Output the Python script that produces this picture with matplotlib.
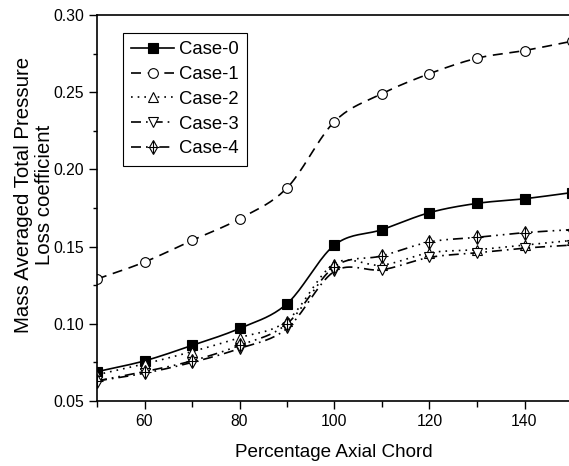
import numpy as np
import matplotlib
matplotlib.use("Agg")
import matplotlib.pyplot as plt
from matplotlib.legend_handler import HandlerTuple

plt.rcParams['font.family'] = ['Liberation Sans', 'DejaVu Sans']

chord = [50, 60, 70, 80, 90, 100, 110, 120, 130, 140, 150]
case0 = [0.069, 0.076, 0.086, 0.097, 0.113, 0.151, 0.161, 0.172, 0.178, 0.181, 0.185]
case1 = [0.129, 0.140, 0.154, 0.168, 0.188, 0.231, 0.249, 0.262, 0.272, 0.277, 0.283]
case2 = [0.067, 0.074, 0.082, 0.091, 0.102, 0.139, 0.138, 0.146, 0.148, 0.151, 0.154]
case3 = [0.063, 0.068, 0.075, 0.084, 0.097, 0.134, 0.135, 0.143, 0.146, 0.149, 0.151]
case4 = [0.063, 0.069, 0.076, 0.086, 0.100, 0.137, 0.144, 0.153, 0.156, 0.159, 0.161]
labels = ['Case-0', 'Case-1', 'Case-2', 'Case-3', 'Case-4']


def smooth(x, y, n=20):
    # catmull-rom through the points, just for drawing the line
    x = np.asarray(x, float)
    y = np.asarray(y, float)
    xs, ys = [], []
    for i in range(len(x) - 1):
        p0 = y[i - 1] if i > 0 else 2 * y[0] - y[1]
        p3 = y[i + 2] if i + 2 < len(y) else 2 * y[-1] - y[-2]
        p1, p2 = y[i], y[i + 1]
        t = np.linspace(0, 1, n, endpoint=False)
        seg = 0.5 * (2 * p1 + (-p0 + p2) * t + (2 * p0 - 5 * p1 + 4 * p2 - p3) * t**2
                     + (-p0 + 3 * p1 - 3 * p2 + p3) * t**3)
        xs.append(x[i] + (x[i + 1] - x[i]) * t)
        ys.append(seg)
    xs.append([x[-1]])
    ys.append([y[-1]])
    return np.concatenate(xs), np.concatenate(ys)


fig = plt.figure(figsize=(5.69, 4.66), dpi=100)
ax = fig.add_axes([97 / 569, 65 / 466, 475 / 569, 386 / 466])

styles = [
    dict(marker='s', mfc='black', dashes=None),
    dict(marker='o', mfc='white', dashes=(6, 4)),
    dict(marker='^', mfc='white', dashes=(1, 3)),
    dict(marker='v', mfc='white', dashes=(6, 3, 1, 3)),
    dict(marker='d', mfc='white', dashes=(6, 3, 1, 3, 1, 3)),
]

handles = []
for data, st in zip([case0, case1, case2, case3, case4], styles):
    sx, sy = smooth(chord, data)
    line, = ax.plot(sx, sy, color='black', lw=1.2)
    if st['dashes'] is not None:
        line.set_dashes(st['dashes'])
    ax.plot(chord, data, ls='none', marker=st['marker'], ms=7, mfc=st['mfc'],
            mec='black', mew=0.8)
    proxy, = ax.plot([], [], color='black', lw=1.2, marker=st['marker'], ms=7,
                     mfc=st['mfc'], mec='black', mew=0.8)
    if st['dashes'] is not None:
        proxy.set_dashes(st['dashes'])
    if st['marker'] == 'd':
        ax.plot(chord, data, ls='none', marker='+', ms=8, mec='black', mew=0.8)
        plus, = ax.plot([], [], ls='none', marker='+', ms=8, mec='black', mew=0.8)
        handles.append((proxy, plus))
    else:
        handles.append(proxy)

ax.set_xlim(50, 150)
ax.set_ylim(0.05, 0.30)
ax.set_xticks([60, 80, 100, 120, 140])
ax.set_xticks([50, 70, 90, 110, 130, 150], minor=True)
ax.set_yticks([0.05, 0.10, 0.15, 0.20, 0.25, 0.30])
ax.set_yticks([0.075, 0.125, 0.175, 0.225, 0.275], minor=True)
ax.tick_params(which='both', direction='out', labelsize=11.3, width=1.0, pad=3.5)
ax.tick_params(which='major', length=6)
ax.tick_params(which='minor', length=3)
ax.tick_params(axis='x', which='minor', length=4.5)
for s in ax.spines.values():
    s.set_linewidth(1.2)

ax.set_xlabel('Percentage Axial Chord', fontsize=13.6)
ax.xaxis.set_label_coords(0.499, -0.112)
ax.set_ylabel('Mass Averaged Total Pressure\nLoss coefficient', fontsize=14.7,
              linespacing=1.1)
ax.yaxis.set_label_coords(-0.091, 0.535)

leg = ax.legend(handles, labels, loc='upper left', bbox_to_anchor=(123 / 569, 1 - 33 / 466),
                bbox_transform=fig.transFigure, borderaxespad=0, fontsize=13.3,
                handlelength=2.3, fancybox=False, framealpha=1, edgecolor='black',
                handler_map={tuple: HandlerTuple(ndivide=1)}, labelspacing=0.42,
                handletextpad=0.3, borderpad=0.45)
leg.get_frame().set_linewidth(0.8)

fig.savefig('out.png', dpi=100)
